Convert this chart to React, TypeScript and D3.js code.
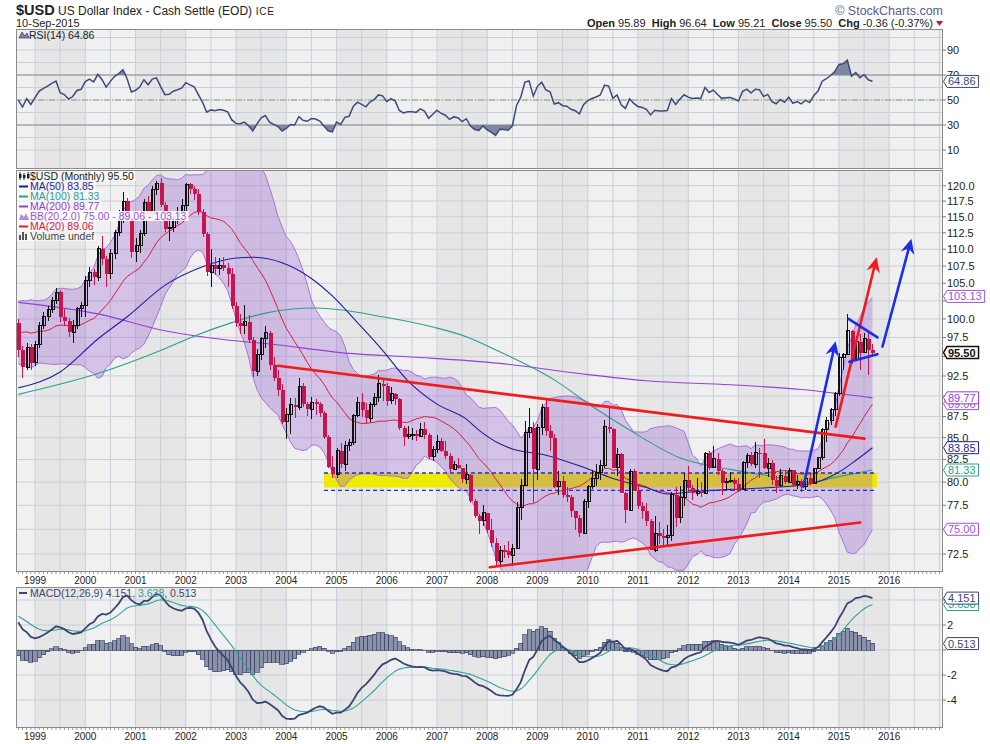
import React, { useEffect, useRef } from "react";
import * as d3 from "d3";

// Monthly bars, first bar = Sep 1998. Month index m counts from Jan 1999 (m = 0).
const startMonth = -4;

// closes before the first bar, only used to warm up RSI / MACD / BB (Jan 1996 - Aug 1998)
const priorCloses = [
  87.1, 86.6, 86.9, 87.8, 88.2, 87.8, 85.9, 86.0, 87.1, 87.3, 87.4, 87.6,
  92.2, 94.6, 95.2, 97.4, 94.5, 95.7, 100.1, 99.4, 97.4, 96.6, 98.6, 99.6,
  100.3, 99.3, 100.9, 98.9, 99.6, 100.8, 100.5, 99.4,
];

const opens = [
  99.4, 95.9, 93.6, 96.2,
  94.2, 96.5, 99.1, 100.3, 101.3, 102.6, 103.7, 100.3, 99.7, 98.2, 99.1, 101.4,
  101.9, 105.4, 106.6, 105.9, 110.1, 108.6, 106.4, 109.4, 112.5, 114.5, 117.5, 114.6,
  109.6, 110.5, 112.4, 117.3, 115.3, 119.4, 120.4, 116.9, 113.1, 113.3, 115.1, 115.9,
  116.8, 120.2, 119.4, 118.7, 115.7, 112.3, 106.6, 107.6, 107.1, 107.6, 107.2, 106.4,
  101.8, 99.4, 99.1, 99.6, 97.2, 93.1, 95.3, 97.3, 98.1, 93.9, 92.3, 90.7,
  86.9, 87.7, 88.9, 88.6, 91.2, 89.0, 88.4, 89.2, 89.0, 87.9, 85.1, 81.7,
  80.85, 83.5, 82.0, 84.1, 84.4, 87.6, 89.2, 88.3, 87.3, 88.9, 89.8, 91.5,
  91.2, 89.4, 90.3, 89.6, 86.1, 85.1, 85.4, 85.4, 85.2, 86.0, 85.3, 82.8,
  83.65, 84.6, 83.5, 82.9, 81.4, 81.9, 81.6, 80.3, 80.8, 78.0, 76.4, 75.9,
  76.7, 74.9, 73.6, 71.8, 72.9, 72.8, 72.4, 73.1, 77.3, 79.6, 85.6, 86.2,
  81.4, 86.2, 88.6, 85.8, 85.0, 79.5, 80.1, 78.6, 78.4, 76.9, 76.2, 74.6,
  77.9, 79.5, 80.4, 81.0, 81.8, 86.3, 86.0, 81.6, 83.1, 78.8, 77.0, 81.2,
  79.0, 77.4, 76.9, 75.9, 72.9, 74.6, 74.3, 74.2, 74.4, 78.6, 76.2, 78.3,
  80.2, 79.3, 78.8, 79.0, 78.8, 83.2, 81.6, 82.6, 81.2, 79.9, 80.1, 80.2,
  79.8, 79.2, 82.2, 83.0, 82.0, 83.3, 83.2, 81.5, 82.1, 80.2, 79.6, 80.7,
  80.0, 81.3, 79.7, 80.1, 79.5, 80.4, 79.8, 81.5, 82.7, 86.0, 87.0, 88.4,
  90.3, 94.8, 95.3, 98.4, 94.6, 96.9, 95.5, 97.3, 95.89,
];

const highs = [
  100.0, 96.4, 96.7, 96.6,
  97.0, 99.6, 101.0, 101.8, 103.0, 104.3, 104.0, 101.4, 100.1, 99.8, 101.7, 102.4,
  106.0, 107.4, 107.0, 110.5, 112.0, 109.0, 110.0, 112.9, 116.0, 119.0, 118.0, 115.0,
  111.7, 112.9, 117.8, 118.3, 119.9, 120.7, 121.3, 117.3, 114.6, 115.6, 116.6, 117.8,
  120.5, 120.4, 119.9, 119.4, 116.3, 112.6, 110.0, 108.8, 108.7, 108.8, 107.9, 107.2,
  102.3, 100.7, 101.9, 100.5, 97.6, 96.0, 97.5, 99.1, 98.3, 94.9, 93.3, 91.5,
  88.5, 89.7, 89.8, 92.2, 91.6, 89.3, 89.9, 89.6, 89.3, 88.2, 85.3, 82.9,
  83.8, 84.4, 84.6, 84.8, 87.8, 89.9, 90.4, 89.1, 89.2, 90.4, 92.6, 92.1,
  91.6, 91.1, 90.4, 89.8, 86.4, 86.4, 86.1, 85.9, 86.7, 86.9, 85.5, 84.0,
  85.3, 85.0, 84.6, 83.2, 82.3, 82.7, 81.6, 82.0, 80.9, 78.2, 76.6, 77.5,
  76.7, 76.1, 74.1, 73.3, 73.4, 73.8, 73.5, 77.8, 80.3, 87.0, 88.5, 86.9,
  86.6, 89.0, 89.6, 86.5, 85.4, 81.2, 80.7, 79.5, 78.6, 76.9, 76.5, 78.2,
  79.7, 81.3, 82.0, 82.5, 87.1, 88.7, 86.2, 83.8, 83.3, 78.9, 81.4, 81.4,
  79.7, 77.9, 77.7, 76.1, 76.4, 75.7, 75.0, 75.4, 78.9, 79.5, 79.6, 81.0,
  81.8, 79.7, 80.4, 80.0, 83.4, 83.5, 84.0, 83.3, 81.4, 80.4, 81.1, 80.5,
  80.4, 82.3, 83.2, 83.4, 84.5, 83.8, 84.8, 82.7, 82.4, 80.7, 81.4, 81.3,
  81.5, 81.3, 80.8, 80.3, 80.6, 80.9, 81.6, 82.8, 86.1, 87.4, 88.5, 90.5,
  95.5, 95.5, 100.7, 98.5, 97.7, 98.0, 98.1, 98.3, 96.64,
];

const lows = [
  94.9, 92.3, 93.2, 93.3,
  93.8, 96.1, 98.6, 99.7, 100.8, 102.0, 99.6, 99.0, 97.6, 96.8, 98.7, 100.2,
  100.3, 104.4, 104.8, 105.4, 107.6, 104.5, 105.6, 108.6, 112.0, 114.0, 114.3, 108.7,
  108.1, 109.5, 112.0, 114.4, 114.8, 118.5, 116.5, 112.6, 111.3, 112.6, 113.8, 114.9,
  115.9, 118.7, 117.6, 115.3, 111.8, 106.1, 104.4, 106.2, 106.2, 106.8, 104.4, 101.4,
  98.9, 98.0, 98.0, 96.8, 92.4, 92.5, 94.5, 96.1, 93.3, 91.8, 90.0, 86.6,
  84.9, 85.4, 87.3, 88.3, 88.7, 87.6, 87.2, 87.7, 87.4, 84.9, 81.5, 80.4,
  80.4, 81.5, 81.2, 83.5, 84.2, 87.5, 87.5, 86.6, 86.8, 88.6, 89.3, 89.4,
  88.8, 89.0, 88.9, 85.9, 84.1, 84.8, 84.7, 84.6, 85.2, 84.9, 82.6, 82.3,
  83.3, 83.4, 82.6, 81.1, 81.3, 81.4, 79.9, 79.8, 77.7, 76.2, 74.5, 75.3,
  74.6, 73.2, 71.2, 71.3, 72.1, 72.1, 71.3, 73.1, 76.0, 79.6, 85.0, 77.7,
  80.2, 85.3, 85.2, 83.5, 79.3, 78.6, 78.3, 77.8, 76.3, 74.9, 74.2, 74.5,
  77.2, 79.2, 79.6, 80.2, 81.6, 85.5, 81.6, 80.7, 78.8, 75.6, 76.9, 79.0,
  77.1, 76.1, 75.3, 72.9, 72.7, 73.5, 73.4, 73.4, 73.8, 75.2, 75.6, 77.4,
  78.9, 78.1, 78.5, 78.4, 78.7, 81.3, 81.5, 80.8, 78.6, 79.1, 79.9, 79.0,
  78.9, 79.2, 81.5, 81.8, 81.6, 80.5, 81.4, 80.6, 79.7, 78.8, 79.5, 79.8,
  79.9, 79.5, 79.2, 78.9, 79.1, 79.7, 79.8, 81.4, 82.5, 84.5, 86.5, 87.6,
  90.0, 93.2, 95.2, 94.0, 94.5, 93.3, 95.4, 92.6, 95.21,
];

const closes = [
  95.9, 93.6, 96.2, 94.2,
  96.5, 99.1, 100.3, 101.3, 102.6, 103.7, 100.3, 99.7, 98.2, 99.1, 101.4, 101.9,
  105.4, 106.6, 105.9, 110.1, 108.6, 106.4, 109.4, 112.5, 114.5, 117.5, 114.6, 109.6,
  110.5, 112.4, 117.3, 115.3, 119.4, 120.4, 116.9, 113.1, 113.3, 115.1, 115.9, 116.8,
  120.2, 119.4, 118.7, 115.7, 112.3, 106.6, 107.6, 107.1, 107.6, 107.2, 106.4, 101.8,
  99.4, 99.1, 99.6, 97.2, 93.1, 95.3, 97.3, 98.1, 93.9, 92.3, 90.7, 86.9,
  87.7, 88.9, 88.6, 91.2, 89.0, 88.4, 89.2, 89.0, 87.9, 85.1, 81.7, 80.85,
  83.5, 82.0, 84.1, 84.4, 87.6, 89.2, 88.3, 87.3, 88.9, 89.8, 91.5, 91.2,
  89.4, 90.3, 89.6, 86.1, 85.1, 85.4, 85.4, 85.2, 86.0, 85.3, 82.8, 83.65,
  84.6, 83.5, 82.9, 81.4, 81.9, 81.6, 80.3, 80.8, 78.0, 76.4, 75.9, 76.7,
  74.9, 73.6, 71.8, 72.9, 72.8, 72.4, 73.1, 77.3, 79.6, 85.6, 86.2, 81.4,
  86.2, 88.6, 85.8, 85.0, 79.5, 80.1, 78.6, 78.4, 76.9, 76.2, 74.6, 77.9,
  79.5, 80.4, 81.0, 81.8, 86.3, 86.0, 81.6, 83.1, 78.8, 77.0, 81.2, 79.0,
  77.4, 76.9, 75.9, 72.9, 74.6, 74.3, 74.2, 74.4, 78.6, 76.2, 78.3, 80.2,
  79.3, 78.8, 79.0, 78.8, 83.2, 81.6, 82.6, 81.2, 79.9, 80.1, 80.2, 79.8,
  79.2, 82.2, 83.0, 82.0, 83.3, 83.2, 81.5, 82.1, 80.2, 79.6, 80.7, 80.0,
  81.3, 79.7, 80.1, 79.5, 80.4, 79.8, 81.5, 82.7, 86.0, 87.0, 88.4, 90.3,
  94.8, 95.3, 98.4, 94.6, 96.9, 95.5, 97.3, 95.89, 95.5,
];

// long moving averages: [month, value]
const ma50Pts: [number, number][] = [
  [-4, 91.0], [6, 93.0], [15, 97.3], [22, 100.3], [31, 104.7], [40, 107.4], [48, 108.7],
  [52, 108.8], [59, 108.0], [66, 105.7], [71, 103.2], [77, 99.5], [83, 95.8], [89, 91.9],
  [96, 89.0], [103, 87.2], [106, 85.9], [111, 84.3], [114, 83.7], [122, 83.0], [130, 81.8],
  [138, 80.4], [146, 79.4], [151, 78.7], [156, 78.9], [166, 79.2], [176, 79.4], [186, 79.9],
  [192, 81.1], [196, 82.4], [200, 83.85],
];
const ma100Pts: [number, number][] = [
  [-4, 90.2], [15, 92.8], [31, 96.0], [39, 97.9], [47, 99.5], [55, 100.8], [67, 101.5],
  [83, 100.3], [95, 98.9], [103, 97.6], [111, 95.6], [124, 92.0], [134, 88.4], [142, 85.9],
  [154, 82.7], [166, 81.4], [175, 80.7], [185, 80.0], [192, 80.6], [200, 81.33],
];
const ma200Pts: [number, number][] = [
  [-4, 102.3], [15, 100.7], [31, 98.4], [47, 97.1], [55, 96.7], [75, 95.4], [91, 94.9],
  [111, 94.1], [130, 92.8], [146, 91.9], [166, 91.4], [183, 90.8], [200, 89.77],
];

// hand-drawn annotations: [month, price]
const resistanceLine: [number, number][] = [[58, 93.8], [198.1, 84.9]];
const supportLine: [number, number][] = [[108.6, 71.2], [197.1, 75.7]];
const redArrow: [number, number][] = [[191.2, 86.3], [201.0, 108.8]];
const blueArrowA: [number, number][] = [[183.5, 79.5], [191.2, 97.0]];
const blueArrowB: [number, number][] = [[202.4, 96.3], [209.3, 111.6]];
const flagTop: [number, number][] = [[194.3, 100.0], [201.2, 97.5]];
const flagBottom: [number, number][] = [[194.5, 94.3], [201.2, 95.3]];
const zoneMonths = [69, 201.1];
const zoneFill = [79.4, 81.0];
const zoneDashes = [79.1, 81.0];

const yearLabels = ["1999", "2000", "2001", "2002", "2003", "2004", "2005", "2006", "2007",
  "2008", "2009", "2010", "2011", "2012", "2013", "2014", "2015", "2016"];
const priceTicks = [72.5, 75, 77.5, 80, 82.5, 85, 87.5, 90, 92.5, 95, 97.5, 100, 102.5,
  105, 107.5, 110, 112.5, 115, 117.5, 120];
const rsiGrid = [10, 20, 30, 40, 50, 60, 70, 80, 90, 100];
const rsiTicks = [10, 30, 50, 70, 90];
const macdTicks = [-4, -2, 0, 2, 4];

const legendLabels = ["$USD (Monthly) 95.50", "MA(50) 83.85", "MA(100) 81.33", "MA(200) 89.77",
  "BB(20,2.0) 75.00 - 89.06 - 103.13", "MA(20) 89.06", "Volume undef"];
const priceTags: [string, string][] = [
  ["103.13", "bb"], ["89.06", "bb"], ["89.77", "ma200"], ["83.85", "ma50"],
  ["81.33", "ma100"], ["75.00", "bb"], ["95.50", "close"],
];
const rsiTag = "64.86";
const macdTags: [string, string][] = [["3.638", "signal"], ["4.151", "macd"], ["0.513", "macd"]];

const C: Record<string, string> = {
  ma50: "#1f1f9a", ma100: "#2f9e8e", ma200: "#9440d8", ma20: "#d8203e", bb: "#9a56d6",
  close: "#111", up: "#111", down: "#c8144e", grid: "#c8cfda", frame: "#8a8a8a",
  rsi: "#3d4a7a", macd: "#3a4672", signal: "#2fa39a", hist: "#8a91a8",
};
const FONT = "'Liberation Sans', Arial, sans-serif";

const App: React.FC = () => {
  const svgRef = useRef<SVGSVGElement | null>(null);

  useEffect(() => {
    document.body.style.margin = "0";
    const W = 990, H = 744, L = 16, R = 943;
    const rsiTop = 29, rsiBot = 169, mainTop = 170, mainBot = 572, macdTop = 587, macdBot = 728;

    const svg = d3.select(svgRef.current).attr("width", W).attr("height", H);
    svg.selectAll("*").remove();

    const xs = d3.scaleLinear().domain([-4.55, 216.85]).range([L, R]);
    const ys = d3.scaleLog().domain([70.74, 122.6]).range([mainBot, mainTop]);
    const ry = d3.scaleLinear().domain([-5.2, 106.8]).range([rsiBot, rsiTop]);
    const my = d3.scaleLinear().domain([-6.24, 5.04]).range([macdBot, macdTop]);

    // indicators from the closes
    const all = [...priorCloses, ...closes];
    const off = priorCloses.length;
    const bb = closes.map((_, i) => {
      const win = all.slice(i + off - 19, i + off + 1);
      const mean = d3.mean(win) as number;
      const sd = Math.sqrt(d3.mean(win, (v) => (v - mean) ** 2) as number);
      return { m: startMonth + i, mid: mean, up: mean + 2 * sd, lo: mean - 2 * sd };
    });
    const rsiAll: number[] = [];
    let ag = 0, al = 0;
    for (let k = 1; k < all.length; k++) {
      const d = all[k] - all[k - 1];
      const g = Math.max(d, 0), l = Math.max(-d, 0);
      if (k <= 14) { ag += g / 14; al += l / 14; } else { ag = (ag * 13 + g) / 14; al = (al * 13 + l) / 14; }
      rsiAll[k] = al === 0 ? 100 : 100 - 100 / (1 + ag / al);
    }
    const ema = (src: number[], n: number) => {
      const a = 2 / (n + 1);
      const out: number[] = [];
      src.forEach((v, i) => out.push(i === 0 ? v : a * v + (1 - a) * out[i - 1]));
      return out;
    };
    const e12 = ema(all, 12), e26 = ema(all, 26);
    const macdAll = all.map((_, i) => e12[i] - e26[i]);
    const sigAll = ema(macdAll, 9);
    const ind = closes.map((_, i) => ({
      m: startMonth + i,
      rsi: rsiAll[i + off],
      macd: macdAll[i + off],
      sig: sigAll[i + off],
      hist: macdAll[i + off] - sigAll[i + off],
    }));

    const defs = svg.append("defs");
    const clip = (id: string, y0: number, y1: number) =>
      defs.append("clipPath").attr("id", id).append("rect").attr("x", L).attr("y", y0).attr("width", R - L).attr("height", y1 - y0);
    clip("cRsi", rsiTop, rsiBot);
    clip("cMain", mainTop, mainBot);
    clip("cMacd", macdTop, macdBot);

    // panel backgrounds, year bands, vertical grid
    const panel = (y0: number, y1: number, id: string) => {
      const g = svg.append("g").attr("clip-path", `url(#${id})`);
      g.append("rect").attr("x", L).attr("y", y0).attr("width", R - L).attr("height", y1 - y0).attr("fill", "#f0f0f0");
      yearLabels.forEach((_, k) => {
        if (k % 2 !== 0) return;
        const x0 = xs(k * 12), x1 = Math.min(xs(k * 12 + 12), R);
        g.append("rect").attr("x", x0).attr("y", y0).attr("width", x1 - x0).attr("height", y1 - y0).attr("fill", "#e6e6e6");
      });
      for (let m = 0; m <= 216; m += 6) {
        g.append("line").attr("x1", xs(m)).attr("x2", xs(m)).attr("y1", y0).attr("y2", y1)
          .attr("stroke", C.grid).attr("stroke-width", 1);
      }
      return g;
    };
    const hline = (g: any, y: number, color = C.grid, dash?: string) =>
      g.append("line").attr("x1", L).attr("x2", R).attr("y1", y).attr("y2", y).attr("stroke", color)
        .attr("stroke-width", 1).attr("stroke-dasharray", dash ?? null);

    // ---------- RSI panel ----------
    const gR = panel(rsiTop, rsiBot, "cRsi");
    rsiGrid.forEach((v) => hline(gR, ry(v)));
    hline(gR, ry(70), "#8c8c8c");
    hline(gR, ry(30), "#8c8c8c");
    hline(gR, ry(50), "#8fa070", "6,2,1,2");
    gR.append("path").datum(ind)
      .attr("d", d3.area<any>().x((d) => xs(d.m)).y0(ry(70)).y1((d) => ry(Math.max(d.rsi, 70))))
      .attr("fill", "#7d87a0");
    gR.append("path").datum(ind)
      .attr("d", d3.area<any>().x((d) => xs(d.m)).y0(ry(30)).y1((d) => ry(Math.min(d.rsi, 30))))
      .attr("fill", "#7d87a0");
    gR.append("path").datum(ind)
      .attr("d", d3.line<any>().x((d) => xs(d.m)).y((d) => ry(d.rsi)))
      .attr("fill", "none").attr("stroke", C.rsi).attr("stroke-width", 1.5);

    // ---------- main price panel ----------
    const gM = panel(mainTop, mainBot, "cMain");
    priceTicks.forEach((v) => hline(gM, ys(v)));

    // support zone
    gM.append("rect").attr("x", xs(zoneMonths[0])).attr("width", xs(zoneMonths[1]) - xs(zoneMonths[0]))
      .attr("y", ys(zoneFill[1])).attr("height", ys(zoneFill[0]) - ys(zoneFill[1])).attr("fill", "#efeb00");

    // Bollinger band
    gM.append("path").datum(bb)
      .attr("d", d3.area<any>().x((d) => xs(d.m)).y0((d) => ys(d.lo)).y1((d) => ys(d.up)))
      .attr("fill", "#9b5fd4").attr("fill-opacity", 0.32);
    ["up", "lo"].forEach((k) =>
      gM.append("path").datum(bb)
        .attr("d", d3.line<any>().x((d) => xs(d.m)).y((d) => ys(d[k])))
        .attr("fill", "none").attr("stroke", "#a672dc").attr("stroke-width", 1));
    gM.append("path").datum(bb)
      .attr("d", d3.line<any>().x((d) => xs(d.m)).y((d) => ys(d.mid)))
      .attr("fill", "none").attr("stroke", C.ma20).attr("stroke-width", 1);

    const maLine = d3.line<[number, number]>().x((d) => xs(d[0])).y((d) => ys(d[1])).curve(d3.curveMonotoneX);
    ([[ma200Pts, C.ma200], [ma100Pts, C.ma100], [ma50Pts, C.ma50]] as [[number, number][], string][]).forEach(([pts, col]) =>
      gM.append("path").datum(pts).attr("d", maLine).attr("fill", "none").attr("stroke", col).attr("stroke-width", 1.1));

    zoneDashes.forEach((v) =>
      gM.append("line").attr("x1", xs(zoneMonths[0])).attr("x2", xs(zoneMonths[1])).attr("y1", ys(v)).attr("y2", ys(v))
        .attr("stroke", "#1530e0").attr("stroke-width", 1.3).attr("stroke-dasharray", "4,3"));

    // candles
    const gc = gM.append("g").attr("shape-rendering", "crispEdges");
    closes.forEach((c, i) => {
      const o = opens[i], x = Math.round(xs(startMonth + i));
      const up = c >= o;
      const col = up ? C.up : C.down;
      gc.append("line").attr("x1", x + 0.5).attr("x2", x + 0.5).attr("y1", ys(highs[i])).attr("y2", ys(lows[i]))
        .attr("stroke", col).attr("stroke-width", 1);
      const top = ys(Math.max(o, c)), bot = ys(Math.min(o, c));
      if (up) {
        gc.append("rect").attr("x", x - 1).attr("y", top).attr("width", 3).attr("height", Math.max(bot - top, 1))
          .attr("fill", "none").attr("stroke", col).attr("stroke-width", 1);
      } else {
        gc.append("rect").attr("x", x - 1.5).attr("y", top).attr("width", 4).attr("height", Math.max(bot - top, 1.5))
          .attr("fill", col);
      }
    });

    // annotations
    const px = (p: [number, number]) => [xs(p[0]), ys(p[1])] as [number, number];
    const seg = (pts: [number, number][], col: string, w = 2.6) => {
      const [a, b] = pts.map(px);
      gM.append("line").attr("x1", a[0]).attr("y1", a[1]).attr("x2", b[0]).attr("y2", b[1])
        .attr("stroke", col).attr("stroke-width", w).attr("stroke-linecap", "round");
    };
    const arrow = (pts: [number, number][], col: string) => {
      const [a, b] = pts.map(px);
      const dx = b[0] - a[0], dy = b[1] - a[1], len = Math.hypot(dx, dy);
      const ux = dx / len, uy = dy / len, nx = -uy, ny = ux;
      const back = [b[0] - ux * 15, b[1] - uy * 15], notch = [b[0] - ux * 10, b[1] - uy * 10];
      gM.append("line").attr("x1", a[0]).attr("y1", a[1]).attr("x2", notch[0]).attr("y2", notch[1])
        .attr("stroke", col).attr("stroke-width", 2.6).attr("stroke-linecap", "round");
      gM.append("polygon")
        .attr("points", [b, [back[0] + nx * 7, back[1] + ny * 7], notch, [back[0] - nx * 7, back[1] - ny * 7]].map((p) => p.join(",")).join(" "))
        .attr("fill", col);
    };
    seg(resistanceLine, "#f21a1a");
    seg(supportLine, "#f21a1a");
    arrow(redArrow, "#f21a1a");
    arrow(blueArrowA, "#1a2ee6");
    arrow(blueArrowB, "#1a2ee6");
    seg(flagTop, "#1a2ee6");
    seg(flagBottom, "#1a2ee6");

    // ---------- MACD panel ----------
    const gD = panel(macdTop, macdBot, "cMacd");
    macdTicks.forEach((v) => hline(gD, my(v)));
    const bw = xs(1) - xs(0);
    gD.append("g").attr("shape-rendering", "crispEdges").selectAll("rect").data(ind).enter().append("rect")
      .attr("x", (d) => xs(d.m) - bw / 2).attr("width", bw)
      .attr("y", (d) => my(Math.max(d.hist, 0))).attr("height", (d) => Math.abs(my(d.hist) - my(0)))
      .attr("fill", C.hist).attr("stroke", "#3c4466").attr("stroke-width", 0.7);
    gD.append("path").datum(ind).attr("d", d3.line<any>().x((d) => xs(d.m)).y((d) => my(d.sig)))
      .attr("fill", "none").attr("stroke", C.signal).attr("stroke-width", 1.1);
    gD.append("path").datum(ind).attr("d", d3.line<any>().x((d) => xs(d.m)).y((d) => my(d.macd)))
      .attr("fill", "none").attr("stroke", C.macd).attr("stroke-width", 1.8);

    // frames and monthly ticks
    [[rsiTop, rsiBot], [mainTop, mainBot], [macdTop, macdBot]].forEach(([a, b]) =>
      svg.append("rect").attr("x", L + 0.5).attr("y", a + 0.5).attr("width", R - L - 1).attr("height", b - a - 1)
        .attr("fill", "none").attr("stroke", C.frame).attr("stroke-width", 1));
    [mainBot, macdBot].forEach((yb) => {
      for (let m = -4; m <= 216; m++) {
        svg.append("line").attr("x1", xs(m)).attr("x2", xs(m)).attr("y1", yb).attr("y2", yb + 2)
          .attr("stroke", "#999").attr("stroke-width", 1);
      }
    });

    // year labels
    [584, 740].forEach((yy) =>
      yearLabels.forEach((t, k) =>
        svg.append("text").attr("x", xs(k * 12)).attr("y", yy).attr("text-anchor", "middle")
          .style("font", `10px ${FONT}`).style("fill", "#222").text(t)));

    // right axis labels (labels sitting under a value tag are hidden, as on the original)
    const mainTagY = priceTags.map(([t]) => ys(+t));
    const macdTagY = macdTags.map(([t]) => my(+t));
    const rlabel = (y: number, t: string, covered: number[]) => {
      svg.append("line").attr("x1", R).attr("x2", R + 3).attr("y1", y).attr("y2", y).attr("stroke", "#777");
      if (covered.some((cy) => Math.abs(cy - y) < 9)) return;
      svg.append("text").attr("x", R + 4).attr("y", y).attr("dy", "0.35em")
        .style("font", `11px ${FONT}`).style("fill", "#222").text(t);
    };
    priceTicks.forEach((v) => rlabel(ys(v), d3.format(".1f")(v), mainTagY));
    rsiTicks.forEach((v) => rlabel(ry(v), String(v), []));
    macdTicks.forEach((v) => rlabel(my(v), String(v), macdTagY));

    // value tags
    const tag = (y: number, t: string, col: string, bold = false) => {
      const g = svg.append("g");
      const path = g.append("path");
      const txt = g.append("text").attr("x", R + 5).attr("y", y).attr("dy", "0.36em")
        .style("font", `${bold ? "bold " : ""}11px ${FONT}`).style("fill", col).text(t);
      const w = (txt.node() as SVGTextElement).getComputedTextLength() + 4;
      const x0 = R + 0.5, x1 = R + 4;
      path.attr("d", `M${x0},${y} L${x1},${y - 6} L${x1 + w},${y - 6} L${x1 + w},${y + 6} L${x1},${y + 6} Z`)
        .attr("fill", "#fff").attr("stroke", col).attr("stroke-width", bold ? 1.5 : 1);
    };
    priceTags.forEach(([t, k]) => tag(ys(+t), t, C[k], k === "close"));
    tag(ry(+rsiTag), rsiTag, C.rsi);
    macdTags.forEach(([t, k]) => tag(my(+t), t, C[k]));

    // main legend
    const legendColors = ["#222", C.ma50, C.ma100, C.ma200, C.bb, C.ma20, "#444"];
    legendLabels.forEach((t, i) => {
      const yb = 180 + i * 10;
      const col = legendColors[i];
      const bg = svg.append("rect");
      const txt = svg.append("text").attr("x", 30).attr("y", yb).style("font", `10.5px ${FONT}`).style("fill", col).text(t);
      const w = (txt.node() as SVGTextElement).getComputedTextLength();
      bg.attr("x", 17).attr("y", yb - 9).attr("width", w + 15).attr("height", 10).attr("fill", "#fff").attr("opacity", i === 4 ? 0.9 : 0.6);
      if (i >= 1 && i <= 5 && i !== 4) {
        svg.append("line").attr("x1", 19).attr("x2", 28).attr("y1", yb - 3.5).attr("y2", yb - 3.5).attr("stroke", col).attr("stroke-width", 2);
      } else if (i === 4) {
        svg.append("path").attr("d", `M19,${yb} L21,${yb - 6} L24,${yb - 3} L26,${yb - 7} L29,${yb} Z`).attr("fill", "#b48ae0");
      } else if (i === 0) {
        svg.append("path").attr("d", `M20,${yb - 8}V${yb}M24,${yb - 7}V${yb}M28,${yb - 8}V${yb - 1}`).attr("stroke", "#222").attr("stroke-width", 1);
        svg.append("rect").attr("x", 19).attr("y", yb - 6).attr("width", 2.5).attr("height", 4).attr("fill", "#222");
        svg.append("rect").attr("x", 23).attr("y", yb - 5).attr("width", 2.5).attr("height", 3).attr("fill", "#222");
        svg.append("rect").attr("x", 27).attr("y", yb - 6).attr("width", 2.5).attr("height", 4).attr("fill", "#222");
      } else {
        svg.append("path").attr("d", `M19,${yb}V${yb - 5}h2V${yb}M22,${yb}V${yb - 8}h2V${yb}M25,${yb}V${yb - 6}h2V${yb}`).attr("fill", "#555");
      }
    });

    // RSI legend
    svg.append("path").attr("d", `M19,38 L22,32 L25,36 L27,33 L29,38 Z`).attr("fill", "#7d87a0").attr("stroke", C.rsi).attr("stroke-width", 0.8);
    svg.append("text").attr("x", 29).attr("y", 39).style("font", `10.5px ${FONT}`).style("fill", "#222").text("RSI(14) 64.86");

    // MACD legend
    svg.append("line").attr("x1", 19).attr("x2", 27).attr("y1", 593).attr("y2", 593).attr("stroke", C.macd).attr("stroke-width", 2);
    const ml = svg.append("text").attr("x", 30).attr("y", 597).style("font", `10.5px ${FONT}`).style("fill", C.macd);
    ml.append("tspan").text("MACD(12,26,9) 4.151, ");
    ml.append("tspan").style("fill", C.signal).text("3.638");
    ml.append("tspan").text(", 0.513");

    // header
    const h = svg.append("text").attr("x", 16).attr("y", 15).style("font", `12px ${FONT}`).style("fill", "#222");
    h.append("tspan").style("font-weight", "bold").style("font-size", "14.5px").text("$USD");
    h.append("tspan").text(" US Dollar Index - Cash Settle (EOD)");
    h.append("tspan").style("font-size", "10px").style("letter-spacing", "0.8px").text("  ICE");
    svg.append("text").attr("x", 16).attr("y", 27).style("font", `11px ${FONT}`).style("fill", "#222").text("10-Sep-2015");
    svg.append("text").attr("x", R).attr("y", 15).attr("text-anchor", "end").style("font", `12.5px ${FONT}`).style("fill", "#5a5c90")
      .text("© StockCharts.com");
    const q = svg.append("text").attr("x", 933).attr("y", 27).attr("text-anchor", "end").style("font", `11px ${FONT}`).style("fill", "#222");
    ([["Open", " 95.89  "], ["High", " 96.64  "], ["Low", " 95.21  "], ["Close", " 95.50  "], ["Chg", " -0.36 (-0.37%)"]] as [string, string][])
      .forEach(([k, v]) => {
        q.append("tspan").style("font-weight", "bold").text(k);
        q.append("tspan").style("white-space", "pre").text(v);
      });
    svg.append("path").attr("d", "M936,21 L943,21 L939.5,26 Z").attr("fill", "#d0103a");
  }, []);

  return <svg ref={svgRef} style={{ display: "block", background: "#fff" }}></svg>;
};

export default App;
